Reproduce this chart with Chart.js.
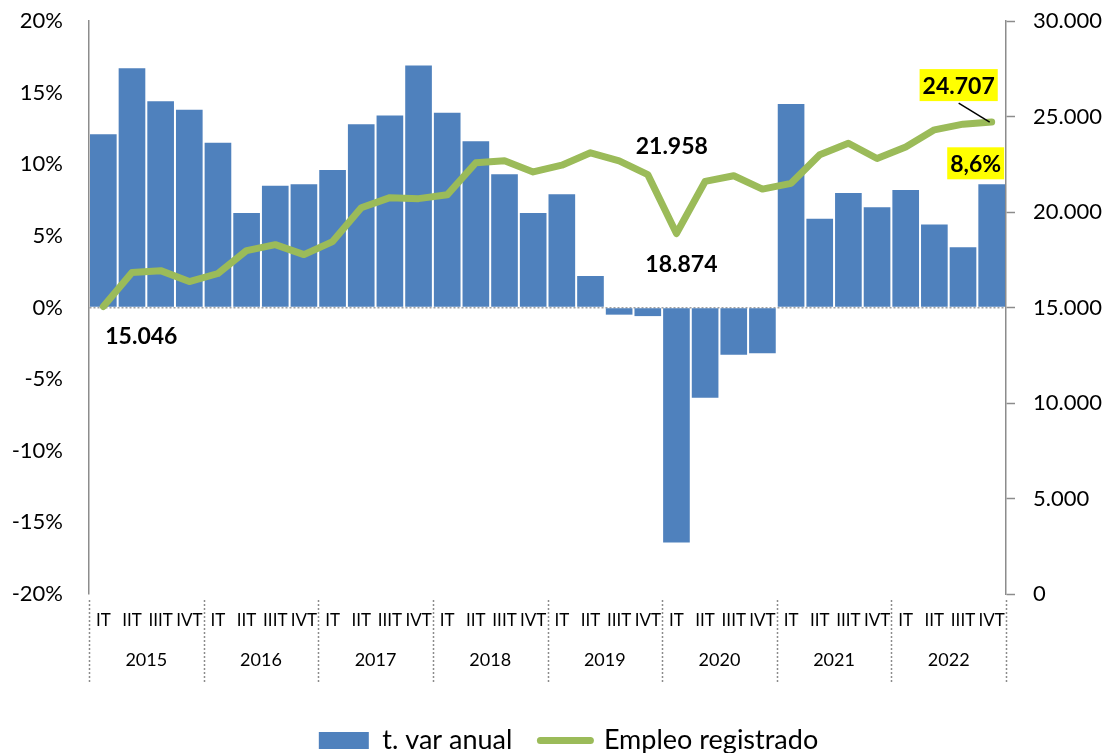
<!DOCTYPE html>
<html>
<head>
<meta charset="utf-8">
<script src="https://cdn.jsdelivr.net/npm/chart.js@4.4.0/dist/chart.umd.min.js"></script>
<style>
  html, body { margin: 0; padding: 0; background: #fff; }
  #wrap { width: 1113px; height: 753px; position: relative; }
</style>
</head>
<body>
<div id="wrap"><canvas id="chart"></canvas></div>
<script>
const years = ["2015", "2016", "2017", "2018", "2019", "2020", "2021", "2022"];
const quarters = ["IT", "IIT", "IIIT", "IVT"];
const quarterLabels = years.flatMap(() => quarters);

// t. var anual (%)
const varAnual = [
  12.1, 16.7, 14.4, 13.8,
  11.5, 6.6, 8.5, 8.6,
  9.6, 12.8, 13.4, 16.9,
  13.6, 11.6, 9.3, 6.6,
  7.9, 2.2, -0.5, -0.6,
  -16.4, -6.3, -3.3, -3.2,
  14.2, 6.2, 8.0, 7.0,
  8.2, 5.8, 4.2, 8.6,
];

// Empleo registrado
const empleo = [
  15046, 16830, 16930, 16360,
  16780, 17980, 18290, 17770,
  18450, 20220, 20750, 20700,
  20900, 22580, 22680, 22100,
  22450, 23100, 22680, 21958,
  18874, 21600, 21900, 21200,
  21500, 23000, 23600, 22800,
  23400, 24300, 24600, 24707,
];

const leftTicks = [-20, -15, -10, -5, 0, 5, 10, 15, 20];
const rightTicks = [0, 5000, 10000, 15000, 20000, 25000, 30000];

const colors = {
  bar: "#4f81bd",
  line: "#9bbb59",
  axis: "#8c8c8c",
  ink: "#000000",
  highlight: "#ffff00",
};

const font = "Lato, Calibri, Carlito, 'Open Sans', sans-serif";
const thousands = new Intl.NumberFormat("de-DE", { useGrouping: true });
const decimal = new Intl.NumberFormat("de-DE", { minimumFractionDigits: 1, maximumFractionDigits: 1 });

// value labels drawn next to chosen points
const notes = [
  { dataset: 1, index: 0, dx: 38, dy: 29 },
  { dataset: 1, index: 19, dx: 24, dy: -29 },
  { dataset: 1, index: 20, dx: 5, dy: 30 },
  { dataset: 1, index: 31, dx: -33, dy: -37, highlight: true, leader: true },
  { dataset: 0, index: 31, dx: -16, dy: -21, highlight: true, percent: true },
];

const notesPlugin = {
  id: "notes",
  afterDatasetsDraw(chart) {
    const ctx = chart.ctx;
    ctx.save();
    ctx.font = `bold 23px ${font}`;
    ctx.textAlign = "center";
    ctx.textBaseline = "middle";
    notes.forEach((note) => {
      const el = chart.getDatasetMeta(note.dataset).data[note.index];
      const value = chart.data.datasets[note.dataset].data[note.index];
      const text = note.percent ? `${decimal.format(value)}%` : thousands.format(value);
      const x = el.x + note.dx;
      const y = el.y + note.dy;
      const w = ctx.measureText(text).width + 6;
      if (note.leader) {
        ctx.strokeStyle = colors.ink;
        ctx.lineWidth = 1.5;
        ctx.beginPath();
        ctx.moveTo(x, y + 18);
        ctx.lineTo(el.x - 2, el.y);
        ctx.stroke();
      }
      if (note.highlight) {
        ctx.fillStyle = colors.highlight;
        ctx.fillRect(x - w / 2, y - 16, w, 32);
      }
      ctx.fillStyle = colors.ink;
      ctx.fillText(text, x, y + 1);
    });
    ctx.restore();
  },
};

// dotted separators between the years under the axis
const yearLinesPlugin = {
  id: "yearLines",
  afterLayout(chart) {
    // legend sits a little right of the canvas centre
    chart.legend.left += 12;
    chart.legend.right += 12;
  },
  afterDraw(chart) {
    const ctx = chart.ctx;
    const xs = chart.scales.x;
    const area = chart.chartArea;
    const edges = [];
    for (let k = 0; k <= years.length; k++) {
      const i = k * quarters.length;
      if (k === 0) edges.push(xs.left);
      else if (k === years.length) edges.push(xs.right);
      else edges.push((xs.getPixelForValue(i - 1) + xs.getPixelForValue(i)) / 2);
    }
    ctx.save();
    ctx.strokeStyle = colors.axis;
    ctx.lineWidth = 1.5;
    ctx.setLineDash([2, 2]);
    edges.forEach((x) => {
      ctx.beginPath();
      ctx.moveTo(Math.round(x) + 0.5, area.bottom + 6);
      ctx.lineTo(Math.round(x) + 0.5, area.bottom + 89);
      ctx.stroke();
    });
    ctx.restore();
  },
};

function fixVertical(width) {
  return (scale) => {
    scale.width = width;
    scale.paddingTop = 0;
    scale.paddingBottom = 0;
  };
}

new Chart(document.querySelector("#chart"), {
  type: "bar",
  data: {
    labels: quarterLabels,
    datasets: [
      {
        label: "t. var anual",
        data: varAnual,
        backgroundColor: colors.bar,
        borderWidth: 0,
        barPercentage: 1,
        categoryPercentage: 0.93,
        yAxisID: "y",
        order: 2,
      },
      {
        type: "line",
        label: "Empleo registrado",
        data: empleo,
        borderColor: colors.line,
        backgroundColor: colors.line,
        borderWidth: 7,
        borderCapStyle: "round",
        borderJoinStyle: "round",
        pointRadius: 0,
        tension: 0,
        yAxisID: "y2",
        order: 1,
      },
    ],
  },
  options: {
    responsive: true,
    maintainAspectRatio: false,
    animation: false,
    layout: { padding: { top: 21, left: 0, right: 0, bottom: -11 } },
    plugins: {
      tooltip: { enabled: false },
      legend: {
        position: "bottom",
        labels: {
          color: colors.ink,
          font: { family: font, size: 27 },
          usePointStyle: true,
          pointStyleWidth: 50,
          boxWidth: 50,
          boxHeight: 17,
          padding: 28,
          generateLabels(chart) {
            const items = Chart.defaults.plugins.legend.labels.generateLabels(chart);
            items.sort((a, b) => a.datasetIndex - b.datasetIndex);
            items[0].pointStyle = "rect";
            items[0].lineWidth = 0;
            items[0].fillStyle = colors.bar;
            items[1].pointStyle = "line";
            items[1].strokeStyle = colors.line;
            items[1].lineWidth = 7;
            items[1].lineCap = "round";
            return items;
          },
        },
      },
    },
    scales: {
      x: {
        type: "category",
        position: "bottom",
        weight: 0,
        grid: { display: false },
        border: { display: false },
        ticks: {
          color: colors.ink,
          font: { family: font, size: 17 },
          autoSkip: false,
          maxRotation: 0,
          padding: 8,
        },
        afterFit(scale) { scale.height = 47; },
      },
      x2: {
        type: "category",
        position: "bottom",
        weight: 1,
        labels: years,
        offset: true,
        grid: { display: false },
        border: { display: false },
        ticks: {
          color: colors.ink,
          font: { family: font, size: 18 },
          autoSkip: false,
          maxRotation: 0,
          padding: 0,
        },
        afterFit(scale) { scale.height = 58; },
      },
      y: {
        position: "left",
        min: -20,
        max: 20,
        afterBuildTicks(scale) { scale.ticks = leftTicks.map((value) => ({ value })); },
        grid: {
          drawTicks: false,
          color: (c) => (c.tick && c.tick.value === 0 ? "#a0a0a0" : "transparent"),
          lineWidth: 1.5,
        },
        border: { display: true, color: colors.axis, width: 1.5, dash: [2, 2] },
        ticks: {
          color: colors.ink,
          font: { family: font, size: 22 },
          padding: 26,
          callback: (value) => `${value}%`,
        },
        afterFit: fixVertical(89),
      },
      y2: {
        position: "right",
        min: 0,
        max: 30000,
        afterBuildTicks(scale) { scale.ticks = rightTicks.map((value) => ({ value })); },
        grid: {
          drawOnChartArea: false,
          drawTicks: true,
          tickLength: 9,
          tickColor: colors.axis,
          tickWidth: 1.5,
        },
        border: { display: true, color: colors.axis, width: 1.5 },
        ticks: {
          color: colors.ink,
          font: { family: font, size: 22 },
          padding: 18,
          callback: (value) => thousands.format(value),
        },
        afterFit: fixVertical(107),
      },
    },
  },
  plugins: [notesPlugin, yearLinesPlugin],
});
</script>
</body>
</html>
